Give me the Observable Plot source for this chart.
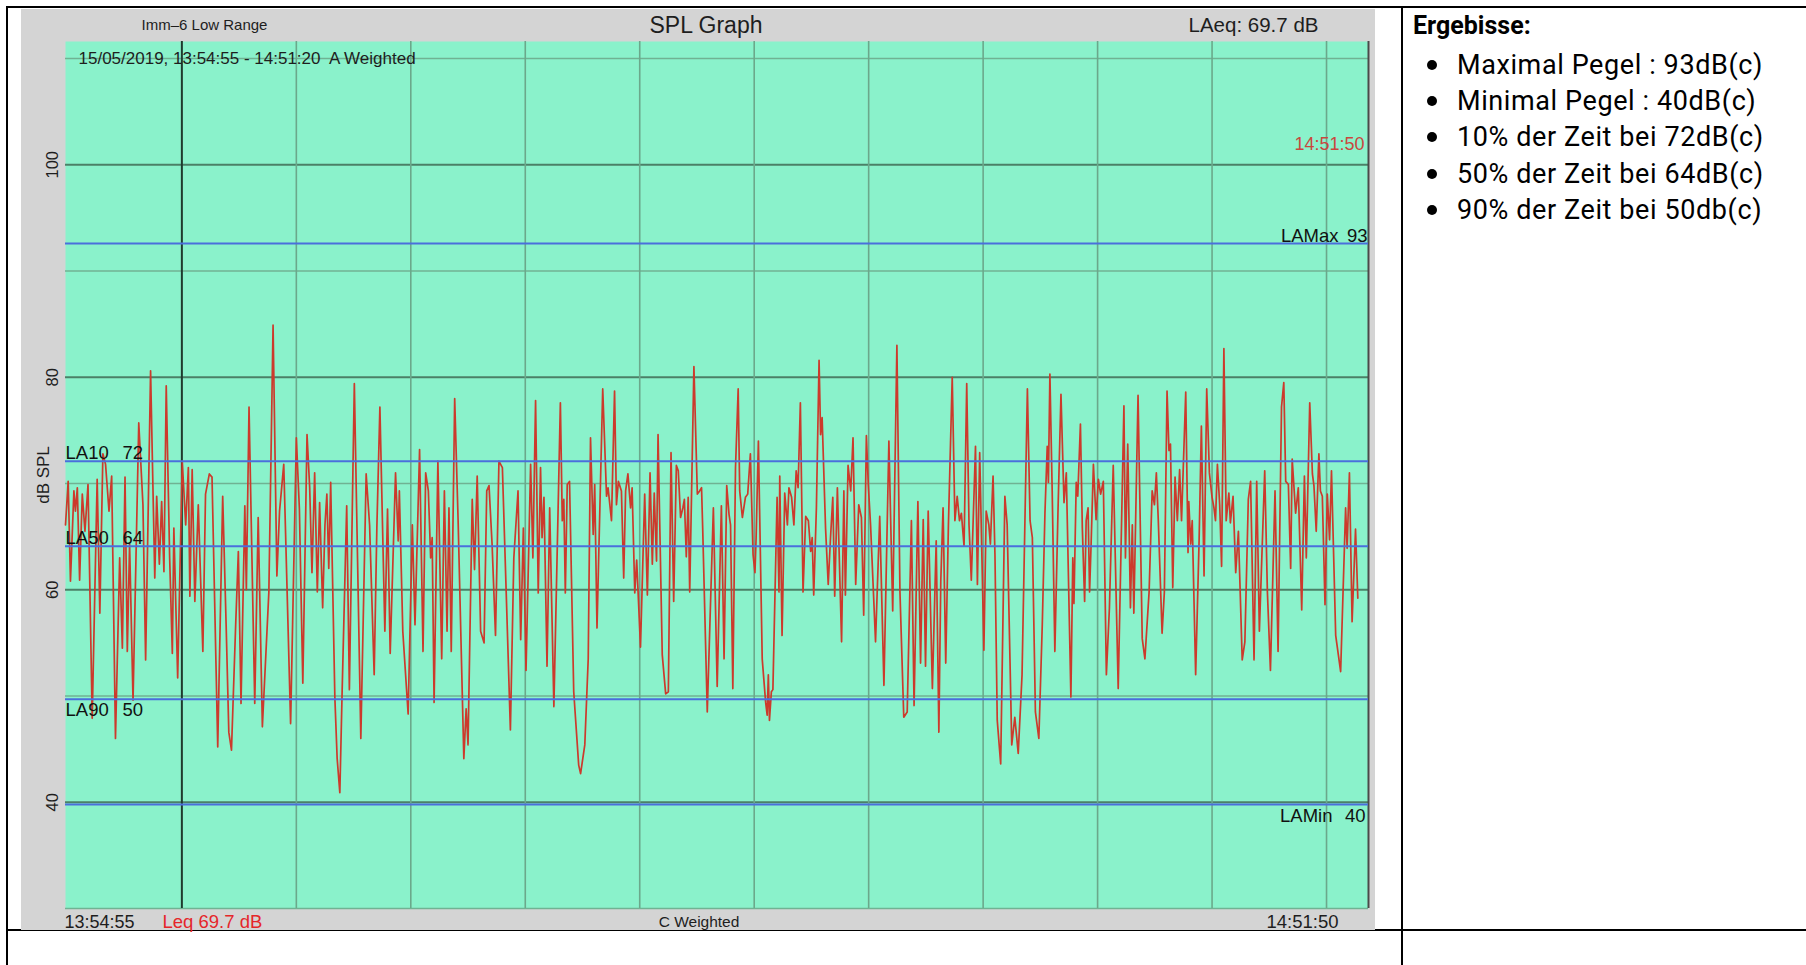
<!DOCTYPE html>
<html><head><meta charset="utf-8">
<script src="https://cdn.jsdelivr.net/npm/d3@7"></script>
<script src="https://cdn.jsdelivr.net/npm/@observablehq/plot@0.6"></script>
<style>
html,body{margin:0;padding:0;background:#fff;width:1806px;height:965px;overflow:hidden;}
#page{position:relative;width:1806px;height:965px;}
.rule{position:absolute;background:#000;}
#chart{position:absolute;left:21px;top:9px;}
#notes{position:absolute;left:1413px;top:9px;font-family:Roboto,"Noto Sans",sans-serif;color:#000;}
#notes .head{font-weight:700;font-size:25px;line-height:34px;letter-spacing:0px;}
#notes ul{list-style:none;margin:4px 0 0 0;padding:0;}
#notes li{position:relative;padding-left:44px;font-size:27px;font-weight:400;line-height:36.2px;letter-spacing:0.6px;white-space:nowrap;}
#notes li::before{content:"";position:absolute;left:14px;top:13px;width:10px;height:10px;border-radius:50%;background:#000;}
</style></head>
<body>
<div id="page">
  <div class="rule" style="left:6px;top:6px;width:1800px;height:2px"></div>
  <div class="rule" style="left:6px;top:6px;width:2px;height:959px"></div>
  <div class="rule" style="left:1401px;top:6px;width:2px;height:959px"></div>
  <div class="rule" style="left:6px;top:929px;width:1800px;height:2px"></div>
  <div id="chart"></div>
  <div id="notes"></div>
</div>
<script>
// ---- data ----
const startTime = new Date(2019, 4, 15, 13, 54, 55);
const endTime = new Date(2019, 4, 15, 14, 51, 50);

// seconds since 13:54:55
const elapsedSec = [
0,7,13,22,26,31,37,44,51,59,70,83,90,98,105,114,121,131,142,149,156,162,168,177,192,203,210,223,234,239,246,252,258,264,273,280,284,294,306,315,322,326,332,339,348,360,367,377,384,399,412,421,428,435,446,453,460,470,474,481,496,505,516,533,544,554,561,572,
590,605,613,622,633,640,646,653,660,666,674,680,685,690,695,706,712,719,725,737,744,757,774,788,797,809,816,824,837,844,851,865,872,875,884,898,909,916,928,937,944,951,957,961,966,976,986,993,1000,1005,1011,1020,1029,1044,1050,1055,1066,1072,1079,1088,1097,1104,1110,1118,1127,1136,1145,
1155,1166,1175,1186,1193,1200,1207,1219,1225,1232,1239,1245,1249,1254,1262,1269,1280,1297,1302,1306,1310,1315,1321,1332,1345,1350,1361,1370,1376,1383,1387,1393,1408,1418,1422,1431,1439,1444,1449,1457,1463,1468,1474,1481,1485,1492,1497,1507,1518,1525,1532,1538,1543,1549,1553,1564,1573,1580,1587,1594,1601,1606,1612,1618,1622,1627,1632,1636,1647,1656,1662,1667,1670,1682,1698,1708,1719,
1726,1733,1739,1743,1749,1756,1763,1767,1774,1782,1788,1795,1802,1807,1810,1816,1826,1835,1839,1842,1845,1850,1854,1865,1870,1872,1878,1885,1892,1896,1903,1909,1915,1920,1926,1933,1940,1947,1953,1957,1961,1968,1975,1979,1983,1992,1999,2005,2011,2016,2023,2034,2040,2044,2051,2058,2064,2071,2079,2086,2092,2099,2104,2110,2123,2134,2145,2158,2168,2179,2187,2197,2206,2217,2224,2234,2241,2248,2254,2261,2272,2282,2289,2294,2300,
2307,2314,2324,2331,2337,2343,2348,2355,2362,2368,2374,2385,2390,2396,2407,2413,2420,2424,2431,2436,2442,2451,2462,2468,2480,2488,2497,2507,2521,2528,2534,2542,2551,2560,2567,2573,2576,2580,2586,2593,2601,2609,2617,2623,2635,2640,2643,2649,2653,2660,2665,2671,2675,2680,2684,2688,2694,2701,2707,2713,2720,2728,2736,2746,2759,2774,2778,2784,2791,2796,2800,2811,2822,2829,2840,2848,2854,2859,2864,2874,
2880,2887,2892,2896,2902,2908,2914,2920,2925,2936,2942,2944,2949,2953,2962,2971,2977,2984,2991,2998,3005,3010,3014,3019,3025,3030,3036,3042,3049,3053,3060,3067,3074,3084,3091,3100,3106,3115,3122,3129,3143,3150,3158,3170,3178,3187,3193,3198,3205,3211,3215,3224,3231,3240,3247,3252,3261,3268,3272,3278,3285,3289,3294,3301,3307,3313,3318,3329,3342,3355,3359,3365,3372,3381,3387
];

// dB SPL at those instants
const levelDb = [
66.1,70.2,60.8,69.3,67.4,69.6,60.9,69.0,65.5,69.9,47.9,70.4,57.8,72.8,71.8,67.4,70.7,46.0,63.0,54.5,70.6,54.2,64.3,49.6,75.7,68.0,53.4,80.6,61.1,68.8,62.4,68.3,61.7,79.2,63.0,54.0,65.8,51.7,72.1,66.1,71.5,59.4,71.3,58.9,68.0,54.2,69.0,70.9,70.6,45.2,68.8,56.7,46.6,44.9,56.7,63.6,49.3,67.9,60.0,77.2,49.3,66.8,47.1,59.8,84.9,61.3,67.4,71.8,
47.4,74.3,67.6,51.2,74.6,69.6,61.6,71.0,59.8,68.2,58.3,66.1,69.0,62.0,70.1,49.8,44.1,40.9,50.4,67.9,50.6,79.4,46.0,70.9,66.1,52.0,65.8,77.2,56.1,67.6,54.0,71.0,64.6,69.3,56.1,48.3,66.1,56.7,73.2,54.2,71.0,69.3,63.0,64.9,49.4,72.1,53.5,69.3,56.1,67.7,54.2,78.0,66.5,44.1,48.8,45.4,68.5,61.9,70.7,56.1,55.0,69.3,69.8,64.3,55.7,72.1,71.5,
59.8,46.8,63.0,69.3,55.3,65.8,52.4,71.8,63.0,77.8,59.7,71.5,64.9,68.7,52.8,67.7,49.0,77.6,66.5,68.5,59.7,69.9,70.2,50.4,43.5,42.7,45.4,53.5,74.3,65.2,69.9,56.4,78.9,68.8,69.6,66.5,78.7,68.0,70.2,69.3,61.1,69.3,70.9,67.7,69.6,59.7,62.8,54.6,69.0,59.5,71.0,62.4,69.1,62.7,74.6,53.9,50.2,50.4,72.9,58.9,71.7,71.2,66.8,67.7,68.5,63.1,68.7,59.8,81.0,69.0,69.3,69.6,65.8,48.5,67.7,50.9,67.9,
53.5,69.8,67.1,66.1,50.7,71.5,78.9,69.3,66.8,68.7,69.0,72.8,63.3,61.6,64.9,74.0,53.5,49.4,48.2,52.0,47.7,50.4,50.6,68.7,59.8,70.7,55.7,69.1,66.1,69.6,68.7,66.1,71.2,69.6,77.6,59.8,66.9,66.5,63.6,64.9,59.5,67.7,81.6,74.6,76.2,65.8,60.5,64.9,68.7,59.4,69.6,55.1,69.3,59.5,71.7,69.3,74.3,60.5,68.0,66.8,57.6,74.5,69.9,66.1,55.1,66.9,51.0,74.0,58.0,83.0,59.8,48.0,48.5,66.5,49.1,68.3,53.1,66.6,52.8,67.4,50.7,64.6,46.6,60.8,67.7,
53.1,66.1,80.0,66.5,68.8,66.5,67.2,64.1,79.4,66.1,60.9,73.5,60.5,72.9,54.3,67.4,66.1,64.3,70.7,63.3,47.7,43.6,68.8,66.1,45.4,48.0,44.6,52.0,78.9,66.5,64.9,48.5,46.0,56.7,67.2,73.5,70.1,80.3,69.3,54.2,67.1,78.4,68.2,71.0,49.9,63.0,58.7,70.1,68.8,75.6,65.8,58.9,66.5,67.7,59.8,64.3,71.8,66.6,70.4,69.0,70.2,52.0,58.3,71.7,50.7,77.3,63.0,73.7,58.3,66.1,57.8,78.3,55.4,53.5,59.8,69.3,68.0,71.0,66.6,55.9,
59.8,78.7,73.1,73.7,60.2,70.6,66.5,71.3,66.5,78.6,63.5,68.3,64.3,66.5,52.0,64.6,75.4,61.3,78.9,71.0,68.7,67.7,66.5,71.8,68.0,62.2,82.7,66.5,69.1,66.3,68.8,61.6,65.5,53.4,55.1,68.5,70.2,53.4,70.2,56.1,71.2,59.8,52.4,69.3,54.2,77.2,79.5,70.2,69.9,62.0,72.3,67.2,69.6,58.1,70.7,63.0,77.6,70.9,69.8,65.5,72.8,69.3,68.8,58.6,69.0,64.7,71.2,55.7,52.3,67.7,63.9,71.0,57.0,65.7,59.2
];

const gridClock = ["14:00","14:05","14:10","14:15","14:20","14:25","14:30","14:35","14:40","14:45","14:50"];
const majorLevels = [40, 60, 80, 100];
const minorLevels = [30, 50, 70, 90, 110];
const statNames = ["LAMax", "LA10", "LA50", "LA90", "LAMin"];
const statValues = [93, 72, 64, 50, 40];
const statLevels = [92.6, 72.1, 64.1, 49.7, 39.8];

const headerLeft = "Imm\u20136 Low Range";
const headerTitle = "SPL Graph";
const headerRight = "LAeq: 69.7 dB";
const periodText = "15/05/2019, 13:54:55 - 14:51:20\u00a0 A Weighted";
const cursorText = "14:51:50";
const footerStart = "13:54:55";
const footerLeq = "Leq 69.7 dB";
const footerMid = "C Weighted";
const footerEnd = "14:51:50";
const yLabel = "dB SPL";

const noteHead = "Ergebisse:";
const noteItems = [
  "Maximal Pegel : 93dB(c)",
  "Minimal Pegel : 40dB(c)",
  "10% der Zeit bei 72dB(c)",
  "50% der Zeit bei 64dB(c)",
  "90% der Zeit bei 50db(c)"
];

// ---- derived ----
const toTime = s => new Date(startTime.getTime() + s * 1000);
const trace = elapsedSec.map((s, i) => ({time: toTime(s), level: levelDb[i]}));
const gridTimes = gridClock.map(c => { const [h, m] = c.split(":").map(Number); return new Date(2019, 4, 15, h, m, 0); });
const stats = statNames.map((name, i) => ({name, value: statValues[i], level: statLevels[i]}));
const isRight = d => d.name.startsWith("LAM");
const isBelow = d => d.level < 55;

const ink = "#1e1e1e";
const statFont = 18.5;
const one = t => [t];
const txt = (t, o) => Plot.text(one(t), {text: d => d, lineAnchor: "middle", fill: ink, ...o});

const chart = Plot.plot({
  width: 1354, height: 921,
  marginLeft: 44, marginRight: 7, marginTop: 32, marginBottom: 22,
  style: {background: "#d4d4d4", fontFamily: '"Liberation Sans", Arial, Helvetica, sans-serif', overflow: "visible"},
  x: {type: "time", domain: [startTime, endTime], axis: null},
  y: {domain: [30, 111.6], axis: null},
  marks: [
    Plot.frame({fill: "#8af2cb", stroke: "none"}),
    Plot.ruleY(minorLevels, {stroke: "#70b293", strokeWidth: 1.5}),
    Plot.ruleY(majorLevels, {stroke: "#4b8067", strokeWidth: 2}),
    Plot.ruleX(gridTimes.filter(d => d.getMinutes() !== 0), {stroke: "#6ba88b", strokeWidth: 1.6}),
    Plot.ruleX(gridTimes.filter(d => d.getMinutes() === 0), {stroke: "#1f3a2e", strokeWidth: 2}),
    Plot.ruleX([endTime], {stroke: "#4a4a4a", strokeWidth: 2}),
    Plot.line(trace, {x: "time", y: "level", stroke: "#cc3a2c", strokeWidth: 1.7}),
    Plot.ruleY(stats, {y: "level", stroke: "#4a6fdc", strokeWidth: 2}),

    // statistic labels
    Plot.text(stats.filter(d => !isRight(d) && !isBelow(d)), {y: "level", text: "name", frameAnchor: "left", textAnchor: "start", lineAnchor: "bottom", dx: 0, dy: -2, fontSize: statFont, fill: "#111"}),
    Plot.text(stats.filter(d => !isRight(d) && !isBelow(d)), {y: "level", text: d => String(d.value), frameAnchor: "left", textAnchor: "start", lineAnchor: "bottom", dx: 57, dy: -2, fontSize: statFont, fill: "#111"}),
    Plot.text(stats.filter(d => !isRight(d) && isBelow(d)), {y: "level", text: "name", frameAnchor: "left", textAnchor: "start", lineAnchor: "top", dx: 0, dy: 4, fontSize: statFont, fill: "#111"}),
    Plot.text(stats.filter(d => !isRight(d) && isBelow(d)), {y: "level", text: d => String(d.value), frameAnchor: "left", textAnchor: "start", lineAnchor: "top", dx: 57, dy: 4, fontSize: statFont, fill: "#111"}),
    Plot.text(stats.filter(d => isRight(d) && !isBelow(d)), {y: "level", text: "name", frameAnchor: "right", textAnchor: "end", lineAnchor: "bottom", dx: -30, dy: -1, fontSize: statFont, fill: "#111"}),
    Plot.text(stats.filter(d => isRight(d) && !isBelow(d)), {y: "level", text: d => String(d.value), frameAnchor: "right", textAnchor: "end", lineAnchor: "bottom", dx: -1, dy: -1, fontSize: statFont, fill: "#111"}),
    Plot.text(stats.filter(d => isRight(d) && isBelow(d)), {y: "level", text: "name", frameAnchor: "right", textAnchor: "end", lineAnchor: "top", dx: -36, dy: 4, fontSize: statFont, fill: "#111"}),
    Plot.text(stats.filter(d => isRight(d) && isBelow(d)), {y: "level", text: d => String(d.value), frameAnchor: "right", textAnchor: "end", lineAnchor: "top", dx: -3, dy: 4, fontSize: statFont, fill: "#111"}),

    // y tick labels (rotated) and axis title
    Plot.text(majorLevels, {y: d => d, text: d => String(d), frameAnchor: "left", textAnchor: "middle", lineAnchor: "middle", dx: -13, rotate: -90, fontSize: 16.5, fill: ink}),
    txt(yLabel, {frameAnchor: "left", textAnchor: "middle", dx: -22, rotate: -90, fontSize: 17}),

    // header
    txt(headerLeft, {frameAnchor: "top-left", textAnchor: "middle", dx: 139, dy: -16, fontSize: 15}),
    txt(headerTitle, {frameAnchor: "top", textAnchor: "middle", dx: -11, dy: -16, fontSize: 23}),
    txt(headerRight, {frameAnchor: "top-right", textAnchor: "middle", dx: -115, dy: -16, fontSize: 20.5}),
    txt(periodText, {frameAnchor: "top-left", textAnchor: "start", dx: 13, dy: 17, fontSize: 17}),
    txt(cursorText, {frameAnchor: "top-right", textAnchor: "end", dx: -4, dy: 103, fontSize: 18, fill: "#c9473d"}),

    // footer
    txt(footerStart, {frameAnchor: "bottom-left", textAnchor: "start", dx: -1, dy: 14, fontSize: 18}),
    txt(footerLeq, {frameAnchor: "bottom-left", textAnchor: "start", dx: 97, dy: 14, fontSize: 18.5, fill: "#e5262a"}),
    txt(footerMid, {frameAnchor: "bottom", textAnchor: "middle", dx: -18, dy: 14, fontSize: 15.5}),
    txt(footerEnd, {frameAnchor: "bottom-right", textAnchor: "end", dx: -30, dy: 14, fontSize: 18.5})
  ]
});
document.getElementById("chart").appendChild(chart);

// notes column
const notes = document.getElementById("notes");
const head = document.createElement("div");
head.className = "head";
head.textContent = noteHead;
notes.appendChild(head);
const ul = document.createElement("ul");
noteItems.forEach(t => { const li = document.createElement("li"); li.textContent = t; ul.appendChild(li); });
notes.appendChild(ul);
</script>
</body></html>
